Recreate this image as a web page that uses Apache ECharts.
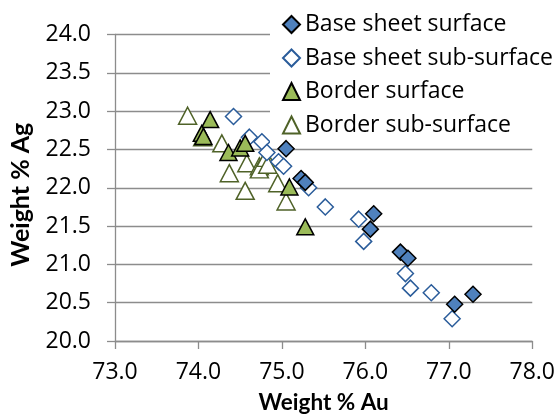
<!DOCTYPE html>
<html><head><meta charset="utf-8">
<script src="https://cdn.jsdelivr.net/npm/echarts@6/dist/echarts.min.js"></script>
<style>html,body{margin:0;padding:0;background:#fff}#c{width:558px;height:419px}</style>
</head><body><div id="c"></div>
<script>
const seriesNames = ['Base sheet surface','Base sheet sub-surface','Border surface','Border sub-surface'];
const xTickLabels = ['73.0','74.0','75.0','76.0','77.0','78.0'];
const yTickLabels = ['20.0','20.5','21.0','21.5','22.0','22.5','23.0','23.5','24.0'];
const baseSurface = [[75.05,22.51],[75.23,22.12],[75.28,22.07],[76.10,21.66],[76.06,21.46],[76.42,21.16],[76.51,21.08],[77.07,20.48],[77.29,20.61]];
const baseSub = [[74.42,22.93],[74.61,22.66],[74.76,22.60],[74.82,22.46],[74.96,22.34],[75.02,22.28],[75.32,22.00],[75.52,21.75],[75.92,21.59],[75.98,21.30],[76.48,20.88],[76.54,20.69],[76.79,20.63],[77.04,20.29]];
const borderSurface = [[74.14,22.89],[74.04,22.71],[74.06,22.67],[74.36,22.46],[74.50,22.52],[74.56,22.58],[75.09,22.01],[75.28,21.49]];
const borderSub = [[73.87,22.94],[74.05,22.66],[74.28,22.58],[74.37,22.19],[74.56,21.96],[74.58,22.32],[74.73,22.28],[74.73,22.24],[74.81,22.39],[74.83,22.30],[74.95,22.06],[75.05,21.82]];

const FONT = 'Open Sans';
const TITLE_FONT = 'Lato';
const chart = echarts.init(document.getElementById('c'));
const gridColor = '#8c8c8c';
chart.setOption({
  animation: false,
  textStyle: {fontFamily: FONT},
  grid: {left: 115, right: 25, top: 34.5, bottom: 74, containLabel: false},
  legend: {
    orient: 'vertical', left: 270, top: 6.5,
    padding: [6, 10, 6, 12],
    backgroundColor: '#ffffff',
    itemWidth: 17, itemHeight: 17, itemGap: 9.5,
    textStyle: {fontFamily: FONT, fontSize: 23, lineHeight: 24, color: '#000'},
    data: seriesNames
  },
  xAxis: {
    type: 'value', min: 73, max: 78, interval: 1,
    name: 'Weight % Au', nameLocation: 'middle', nameGap: 50,
    nameTextStyle: {fontFamily: TITLE_FONT, fontSize: 22.5, fontWeight: 'bold', color: '#000'},
    axisLine: {show: true, lineStyle: {color: gridColor, width: 1.3}},
    axisTick: {show: true, length: 8, lineStyle: {color: gridColor, width: 1.3}},
    axisLabel: {fontFamily: FONT, fontSize: 23, color: '#000', margin: 20,
      formatter: v => xTickLabels[Math.round(v - 73)]},
    splitLine: {show: false}
  },
  yAxis: {
    type: 'value', min: 20, max: 24, interval: 0.5,
    name: 'Weight % Ag', nameLocation: 'middle', nameGap: 82,
    nameTextStyle: {fontFamily: TITLE_FONT, fontSize: 25, fontWeight: 'bold', color: '#000', padding: [0, 14, 0, 0]},
    axisLine: {show: true, lineStyle: {color: gridColor, width: 1.3}},
    axisTick: {show: true, length: 8, lineStyle: {color: gridColor, width: 1.3}},
    axisLabel: {fontFamily: FONT, fontSize: 23, color: '#000', margin: 24,
      formatter: v => yTickLabels[Math.round((v - 20) * 2)]},
    splitLine: {show: true, lineStyle: {color: gridColor, width: 1.3}}
  },
  series: [
    {name: seriesNames[0], type: 'scatter', data: baseSurface, symbol: 'diamond', symbolSize: 16, z: 4,
     itemStyle: {color: '#4f81bd', borderColor: '#000', borderWidth: 1.5, opacity: 1}},
    {name: seriesNames[1], type: 'scatter', data: baseSub, symbol: 'diamond', symbolSize: 16, z: 3,
     itemStyle: {color: '#ffffff', borderColor: '#2a5c9a', borderWidth: 1.5, opacity: 1}},
    {name: seriesNames[2], type: 'scatter', data: borderSurface, symbol: 'triangle', symbolSize: [17, 16], z: 4,
     itemStyle: {color: '#9bbb59', borderColor: '#000', borderWidth: 1.5, opacity: 1}},
    {name: seriesNames[3], type: 'scatter', data: borderSub, symbol: 'triangle', symbolSize: [18, 17], z: 2,
     itemStyle: {color: '#ffffff', borderColor: '#4f6228', borderWidth: 1.5, opacity: 1}}
  ]
});
</script></body></html>
